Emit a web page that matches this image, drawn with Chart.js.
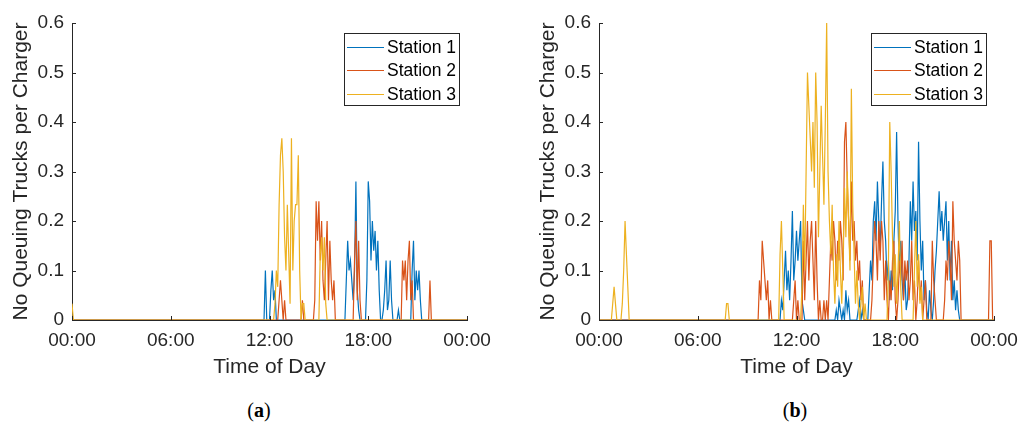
<!DOCTYPE html>
<html>
<head>
<meta charset="utf-8">
<script src="https://cdn.jsdelivr.net/npm/chart.js@4.4.0/dist/chart.umd.min.js"></script>
<style>
  html, body { margin: 0; padding: 0; background: #fff; width: 1022px; height: 423px; overflow: hidden; }
  canvas { position: absolute; top: 0; }
  #chartA { left: 0; }
  #chartB { left: 527px; }
  .cap { position: absolute; top: 399px; width: 60px; text-align: center; line-height: 22px;
         font-family: "Liberation Serif", "DejaVu Serif", serif; font-size: 20px; color: #000; }
</style>
</head>
<body>
<canvas id="chartA" width="495" height="380"></canvas>
<canvas id="chartB" width="495" height="380"></canvas>
<div class="cap" style="left:229px">(<b>a</b>)</div>
<div class="cap" style="left:765px">(<b>b</b>)</div>
<script>
// Samples every 5 minutes; each segment = [start hour, values...]. Gaps between segments are zero.
const STEP = 5 / 60;

const stationLabels = ['Station 1', 'Station 2', 'Station 3'];
const stationColors = ['#0072BD', '#D95319', '#EDB120'];
const xTickLabels = ['00:00', '06:00', '12:00', '18:00', '00:00'];
const yTickLabels = ['0', '0.1', '0.2', '0.3', '0.4', '0.5', '0.6'];

// (a)
const aStation1 = [
  [11.667, [0, 0.1, 0, 0, 0, 0.06, 0.1, 0.04, 0.06, 0]],
  [16.583, [0, 0.08, 0.16, 0.1, 0.12, 0.08, 0.04, 0.1, 0.28, 0.06, 0.02, 0, 0, 0, 0, 0, 0.08, 0.28, 0.24, 0.12,
            0.2, 0.14, 0.18, 0.1, 0.16, 0.06, 0, 0, 0.02, 0.06, 0.12, 0.02, 0.04, 0.12, 0.04, 0]],
  [19.75, [0, 0.02, 0]],
  [20.583, [0, 0.1, 0.16, 0.04, 0.1, 0.06, 0.1, 0.04, 0]]
];
const aStation2 = [
  [12.5, [0, 0.04, 0.08, 0.04, 0, 0.04, 0]],
  [13.917, [0, 0.04, 0]],
  [14.667, [0, 0.04, 0.24, 0.16, 0.24, 0.12, 0.2, 0.08, 0.04, 0.12, 0.2, 0.04, 0.16, 0.08, 0.04, 0.08, 0]],
  [17.083, [0, 0.12, 0.2, 0.04, 0.16, 0.04, 0]],
  [20.0, [0, 0.12, 0.08, 0.12, 0.04, 0.12, 0.16, 0.04, 0.08, 0]],
  [21.667, [0, 0.08, 0]]
];
const aStation3 = [
  [0, [0.033, 0]],
  [12.25, [0, 0.033, 0.1, 0.067, 0.233, 0.333, 0.367, 0.3, 0.167, 0.1, 0.233, 0.133, 0.033, 0.367, 0.1, 0.2,
           0.233, 0.233, 0.333, 0.1, 0, 0.033, 0.033, 0]],
  [15.0, [0, 0.133, 0.167, 0.1, 0.167, 0.033, 0]]
];

// (b)
const bStation1 = [
  [11.0, [0, 0.04, 0.02, 0.08, 0.14, 0.06, 0.1, 0.04, 0.12, 0.22, 0.08, 0.12, 0.18, 0.12, 0.16, 0.2, 0.04, 0.02, 0]],
  [14.333, [0, 0.02, 0, 0.04, 0.02, 0, 0.02, 0, 0.06, 0.02, 0.04, 0]],
  [15.667, [0, 0.02, 0.04, 0, 0.02, 0]],
  [16.333, [0, 0.06, 0.12, 0.08, 0.2, 0.24, 0.16, 0.28, 0.2, 0.14, 0.24, 0.32, 0.2, 0.16, 0.08, 0.12, 0.04, 0.1,
            0.06, 0.16, 0.22, 0.38, 0.2, 0.1, 0.16, 0.08, 0.04, 0.1, 0.02, 0.04, 0.12, 0.24, 0.16, 0.28, 0.18,
            0.22, 0.12, 0.36, 0.2, 0.1, 0.16, 0.04, 0.08, 0.02, 0, 0.06, 0.02, 0, 0.04, 0.1, 0.14, 0.2, 0.26,
            0.18, 0.22, 0.16, 0.2, 0.24, 0.12, 0.2, 0.08, 0.16, 0.04, 0.08, 0.02, 0.06, 0.02, 0]]
];
const bStation2 = [
  [9.667, [0, 0.08, 0.04, 0.16, 0.12, 0.08, 0.04, 0.08, 0, 0.04, 0]],
  [11.75, [0, 0.04, 0.08, 0, 0.04, 0]],
  [12.333, [0, 0.16, 0.04, 0.12, 0.2, 0.08, 0.16, 0.2, 0.12, 0.04, 0.2, 0.08, 0, 0.04, 0, 0, 0.04, 0, 0.04, 0,
            0.08, 0.16, 0.12, 0.2, 0.16, 0.08, 0.16, 0.12, 0.2, 0.16, 0.08, 0.36, 0.4, 0.28, 0.2, 0.12, 0.28,
            0.16, 0.2, 0.12, 0.16, 0.08, 0.12, 0.04, 0.08, 0]],
  [16.5, [0, 0.04, 0.12, 0.2, 0.16, 0.08, 0.2, 0.12, 0.2, 0.16, 0.04, 0.12, 0.04, 0, 0.08, 0.04, 0.12, 0.16,
          0.04, 0, 0.04, 0.12, 0.08, 0.16, 0.04, 0.12, 0.08, 0.12, 0.04, 0.08, 0.16, 0.04, 0.08, 0, 0.04, 0.12,
          0.04, 0.08, 0, 0.04, 0.08, 0]],
  [20.167, [0, 0.16, 0.08, 0.04, 0]],
  [20.917, [0, 0.04, 0.12, 0.08, 0.16, 0.12, 0.04, 0.24, 0.16, 0.12, 0.08, 0.16, 0.12, 0]],
  [23.667, [0, 0.16, 0.16, 0]]
];
const bStation3 = [
  [0.75, [0, 0.033, 0.067, 0.033, 0]],
  [1.333, [0, 0.033, 0.1, 0.2, 0.133, 0.067, 0]],
  [7.667, [0, 0.033, 0.033, 0]],
  [10.917, [0, 0.133, 0.2, 0.1, 0]],
  [12.25, [0, 0.067, 0.233, 0.1, 0.3, 0.5, 0.433, 0.367, 0.3, 0.4, 0.267, 0.5, 0.4, 0.167, 0.3, 0.433, 0.333,
           0.233, 0.4, 0.6, 0.3, 0.2, 0.133, 0.233, 0.1, 0.033, 0.133, 0.067, 0.2, 0.1, 0.033, 0.133, 0.267,
           0.167, 0.3, 0.2, 0.1, 0.467, 0.233, 0.133, 0.033, 0.1, 0.033, 0, 0.033, 0.067, 0, 0.033, 0]],
  [17.5, [0, 0.1, 0.4, 0.3, 0.167, 0.067, 0.133, 0.033, 0.1, 0.2, 0.067, 0]],
  [19.083, [0, 0.1, 0.2, 0.067, 0.133, 0.033, 0.067, 0]]
];

const AXIS_COLOR = '#262626';
const FONT = '"Liberation Sans", Arial, Helvetica, sans-serif';

// expand segments to {x, y} points over the whole day
function toPoints(segments) {
  const pts = [];
  if (segments[0][0] > 0) pts.push({ x: 0, y: 0 });
  segments.forEach(([start, values]) => {
    values.forEach((v, i) => pts.push({ x: start + i * STEP, y: v }));
  });
  pts.push({ x: 24, y: 0 });
  return pts;
}

// MATLAB style ticks pointing into the axes
const innerTicks = {
  id: 'innerTicks',
  afterDraw(chart) {
    const { ctx, chartArea, scales: { x, y } } = chart;
    ctx.save();
    ctx.strokeStyle = AXIS_COLOR;
    ctx.lineWidth = 1;
    ctx.beginPath();
    x.ticks.forEach(t => {
      const px = Math.round(x.getPixelForValue(t.value)) + 0.5;
      ctx.moveTo(px, chartArea.bottom);
      ctx.lineTo(px, chartArea.bottom - 4);
    });
    y.ticks.forEach(t => {
      const py = Math.round(y.getPixelForValue(t.value)) + 0.5;
      ctx.moveTo(chartArea.left, py);
      ctx.lineTo(chartArea.left + 4, py);
    });
    ctx.stroke();
    ctx.restore();
  }
};

// boxed legend in the upper right corner of the axes
const boxLegend = {
  id: 'boxLegend',
  afterDraw(chart) {
    const { ctx, chartArea } = chart;
    const w = 115, h = 72;
    const left = chartArea.right - 8 - w;
    const top = chartArea.top + 10;
    ctx.save();
    ctx.fillStyle = '#fff';
    ctx.fillRect(left, top, w, h);
    ctx.strokeStyle = AXIS_COLOR;
    ctx.lineWidth = 1;
    ctx.strokeRect(Math.round(left) + 0.5, Math.round(top) + 0.5, w, h);
    ctx.font = '17.5px ' + FONT;
    ctx.textBaseline = 'middle';
    ctx.textAlign = 'left';
    chart.data.datasets.forEach((ds, i) => {
      const cy = Math.round(top + 14 + i * 23.3) + 0.5;
      ctx.strokeStyle = ds.borderColor;
      ctx.beginPath();
      ctx.moveTo(left + 3, cy);
      ctx.lineTo(left + 40, cy);
      ctx.stroke();
      ctx.fillStyle = '#000';
      ctx.fillText(ds.label, left + 43, cy + 1);
    });
    ctx.restore();
  }
};

function makeChart(canvasId, series) {
  return new Chart(document.getElementById(canvasId), {
    type: 'line',
    data: {
      datasets: series.map((segs, i) => ({
        label: stationLabels[i],
        data: toPoints(segs),
        borderColor: stationColors[i],
        borderWidth: 1.2,
        pointRadius: 0,
        tension: 0,
        fill: false,
        order: series.length - 1 - i
      }))
    },
    options: {
      responsive: false,
      animation: false,
      events: [],
      layout: { padding: { left: 0, right: 28, top: 23, bottom: 0 } },
      plugins: { legend: { display: false }, tooltip: { enabled: false } },
      scales: {
        x: {
          type: 'linear',
          min: 0,
          max: 24,
          grid: { display: false, drawTicks: false },
          border: { display: true, color: AXIS_COLOR, width: 1 },
          ticks: {
            stepSize: 6,
            autoSkip: false,
            maxRotation: 0,
            padding: 9,
            color: AXIS_COLOR,
            font: { family: FONT, size: 19 },
            callback: (v, i) => xTickLabels[i]
          },
          title: {
            display: true,
            text: 'Time of Day',
            color: AXIS_COLOR,
            font: { family: FONT, size: 21 },
            padding: { top: 0, bottom: 0 }
          },
          afterFit(scale) {
            scale.height = 60;
            scale.paddingLeft = 0;
            scale.paddingRight = 0;
          }
        },
        y: {
          min: 0,
          max: 0.6,
          grid: { display: false, drawTicks: false },
          border: { display: true, color: AXIS_COLOR, width: 1 },
          ticks: {
            stepSize: 0.1,
            padding: 8,
            color: AXIS_COLOR,
            font: { family: FONT, size: 19 },
            callback: (v, i) => yTickLabels[i]
          },
          title: {
            display: true,
            text: 'No Queuing Trucks per Charger',
            color: AXIS_COLOR,
            font: { family: FONT, size: 21 },
            padding: { top: 9, bottom: 0 }
          },
          afterFit(scale) {
            scale.width = 72;
            scale.paddingTop = 0;
            scale.paddingBottom = 0;
          }
        }
      }
    },
    plugins: [innerTicks, boxLegend]
  });
}

makeChart('chartA', [aStation1, aStation2, aStation3]);
makeChart('chartB', [bStation1, bStation2, bStation3]);
</script>
</body>
</html>
